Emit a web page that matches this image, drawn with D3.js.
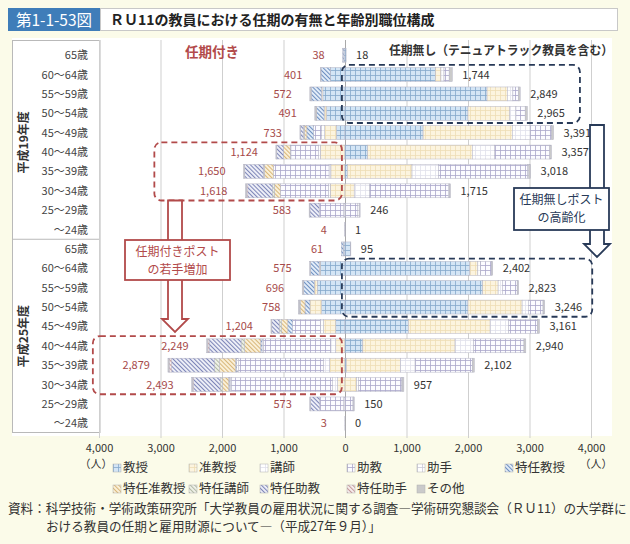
<!DOCTYPE html>
<html>
<head>
<meta charset="utf-8">
<script src="https://cdn.jsdelivr.net/npm/d3@7"></script>
<style>
  body { margin: 0; background: #fbfbe9; }
  svg { display: block; font-family: "Noto Sans CJK JP", "Noto Sans", sans-serif; }
</style>
</head>
<body>
<svg id="chart" width="630" height="544"></svg>
<script>
// ---- data ----
const ageGroups = ["65歳", "60～64歳", "55～59歳", "50～54歳", "45～49歳", "40～44歳",
                   "35～39歳", "30～34歳", "25～29歳", "～24歳"];
const years = ["平成19年度", "平成25年度"];

// every post, in the order it is stacked out from the zero line
const posts = ["教授", "准教授", "講師", "助教", "助手", "特任教授", "特任准教授",
               "特任講師", "特任助教", "特任助手", "その他"];
// posts that exist on the tenured (right) side
const tenurePosts = ["教授", "准教授", "講師", "助教", "助手", "その他"];

// 任期付き (left side), one row per age group, columns = posts
const fixedH19 = [
  [20, 0, 0, 0, 0, 18, 0, 0, 0, 0, 0],
  [240, 0, 0, 0, 0, 150, 0, 0, 0, 0, 11],
  [360, 20, 0, 0, 0, 170, 0, 0, 0, 0, 22],
  [300, 40, 0, 0, 0, 120, 10, 0, 0, 0, 21],
  [140, 190, 50, 130, 0, 110, 40, 20, 40, 0, 13],
  [0, 400, 30, 450, 0, 10, 110, 0, 110, 0, 14],
  [0, 230, 30, 900, 0, 0, 150, 20, 300, 0, 20],
  [0, 240, 30, 780, 0, 0, 100, 30, 400, 20, 18],
  [0, 0, 20, 400, 0, 0, 0, 0, 150, 0, 13],
  [0, 0, 0, 4, 0, 0, 0, 0, 0, 0, 0]
];
const fixedH25 = [
  [30, 0, 0, 0, 0, 31, 0, 0, 0, 0, 0],
  [400, 20, 0, 0, 0, 140, 0, 0, 0, 0, 15],
  [450, 50, 0, 0, 0, 170, 0, 0, 0, 0, 26],
  [380, 190, 0, 0, 0, 80, 70, 20, 0, 0, 18],
  [150, 200, 50, 450, 0, 80, 100, 40, 120, 0, 14],
  [0, 150, 80, 1100, 20, 20, 260, 60, 520, 20, 19],
  [0, 250, 100, 1380, 30, 20, 260, 80, 700, 40, 19],
  [0, 120, 80, 1650, 30, 10, 100, 40, 430, 15, 18],
  [0, 0, 20, 390, 0, 0, 0, 0, 150, 0, 13],
  [0, 0, 0, 3, 0, 0, 0, 0, 0, 0, 0]
];

// 任期無し (right side), columns = tenurePosts
const tenureH19 = [
  [18, 0, 0, 0, 0, 0],
  [1470, 90, 50, 84, 0, 50],
  [2310, 330, 90, 90, 0, 29],
  [2000, 680, 100, 150, 0, 35],
  [1270, 1450, 290, 350, 0, 31],
  [370, 1700, 360, 900, 0, 27],
  [40, 1050, 430, 1450, 20, 28],
  [0, 150, 250, 1280, 15, 20],
  [0, 0, 10, 200, 30, 6],
  [0, 0, 0, 1, 0, 0]
];
const tenureH25 = [
  [90, 0, 0, 0, 0, 5],
  [2030, 130, 40, 180, 0, 22],
  [2240, 250, 70, 240, 0, 23],
  [2000, 880, 100, 240, 0, 26],
  [1030, 1330, 300, 470, 0, 31],
  [290, 1500, 300, 820, 0, 30],
  [20, 880, 240, 930, 0, 32],
  [0, 190, 30, 700, 10, 27],
  [0, 0, 0, 130, 10, 10],
  [0, 0, 0, 0, 0, 0]
];

const xTicks = [-4000, -3000, -2000, -1000, 0, 1000, 2000, 3000, 4000];

// ---- setup ----
const svg = d3.select("#chart");
const defs = svg.append("defs");

// look of each post: grid patterns for regular posts, hatches for 特任
const postStyle = {
  "教授":     { kind: "grid",  bg: "#d4e5f5", line: "#86a8cc" },
  "准教授":   { kind: "grid",  bg: "#fcf4df", line: "#eedcb4" },
  "講師":     { kind: "grid",  bg: "#ffffff", line: "#e0e0ea" },
  "助教":     { kind: "grid",  bg: "#fcfcff", line: "#aaa7c9" },
  "助手":     { kind: "grid",  bg: "#ffffff", line: "#c9c9d8" },
  "特任教授":   { kind: "hatch", bg: "#e4eef9", line: "#6f90c1" },
  "特任准教授": { kind: "hatch", bg: "#fbf1da", line: "#d8b77a" },
  "特任講師":   { kind: "hatch", bg: "#f0f2ea", line: "#b3bba6" },
  "特任助教":   { kind: "hatch", bg: "#eff0f8", line: "#7e86b8" },
  "特任助手":   { kind: "hatch", bg: "#f7efef", line: "#c79b9b" },
  "その他":   { kind: "solid", bg: "#cacaca" }
};

posts.forEach((p, i) => {
  const s = postStyle[p];
  s.fill = s.kind === "solid" ? s.bg : `url(#pat${i})`;
  if (s.kind === "grid") {
    const pat = defs.append("pattern").attr("id", "pat" + i)
      .attr("patternUnits", "userSpaceOnUse").attr("width", 5).attr("height", 5);
    pat.append("rect").attr("width", 5).attr("height", 5).attr("fill", s.bg);
    pat.append("path").attr("d", "M0,0.4H5M0.4,0V5")
      .attr("stroke", s.line).attr("stroke-width", 0.9);
  } else if (s.kind === "hatch") {
    const pat = defs.append("pattern").attr("id", "pat" + i)
      .attr("patternUnits", "userSpaceOnUse").attr("width", 3).attr("height", 3)
      .attr("patternTransform", "rotate(-45)");
    pat.append("rect").attr("width", 3).attr("height", 3).attr("fill", s.bg);
    pat.append("line").attr("x1", 0.5).attr("y1", 0).attr("x2", 0.5).attr("y2", 3)
      .attr("stroke", s.line).attr("stroke-width", 1.1);
  }
});

// ---- scales ----
const x = d3.scaleLinear().domain([-4000, 4000]).range([99, 591]);

// one band per (year, age group) row
const rowKeys = [];
years.forEach(yr => ageGroups.forEach(a => rowKeys.push(yr + "|" + a)));
const y = d3.scaleBand().domain(rowKeys).range([45.5, 433]).paddingInner(0.28).paddingOuter(0.14);
const step = y.step();
const rowTop = k => y(k) - (step - y.bandwidth()) / 2;
const rowBottom = k => rowTop(k) + step;

// ---- frame: white plot area and the label panel ----
svg.append("rect").attr("x", 12).attr("y", 38).attr("width", 600).attr("height", 398)
  .attr("fill", "#ffffff");
svg.append("rect").attr("x", 12.5).attr("y", 40.5).attr("width", 87.5).attr("height", 392)
  .attr("fill", "#ffffff").attr("stroke", "#b9b9b9");
svg.append("line").attr("x1", 12).attr("x2", 100)
  .attr("y1", rowTop(years[1] + "|" + ageGroups[0])).attr("y2", rowTop(years[1] + "|" + ageGroups[0]))
  .attr("stroke", "#b9b9b9");

// vertical gridlines
svg.append("g").selectAll("line").data(xTicks).join("line")
  .attr("x1", d => x(d) + 0.5).attr("x2", d => x(d) + 0.5)
  .attr("y1", 40).attr("y2", 438)
  .attr("stroke", d => d === 0 ? "#a9a9a9" : "#cfcfcf").attr("stroke-width", 1);

// ---- title bar ----
svg.append("rect").attr("x", 8).attr("y", 8).attr("width", 92).attr("height", 23).attr("fill", "#3f7db9");
svg.append("text").attr("x", 54).attr("y", 25.5).attr("text-anchor", "middle")
  .attr("fill", "#ffffff").attr("font-size", 15.5).text("第1-1-53図");
svg.append("rect").attr("x", 100.5).attr("y", 8.5).attr("width", 517).attr("height", 22)
  .attr("fill", "#ffffff").attr("stroke", "#c8c8c8");
svg.append("text").attr("x", 110).attr("y", 25).attr("fill", "#222").attr("font-size", 14)
  .attr("font-weight", "bold").text("ＲＵ11の教員における任期の有無と年齢別職位構成");

// ---- row labels ----
svg.append("g").selectAll("text").data(rowKeys).join("text")
  .attr("x", 88).attr("y", d => y(d) + y.bandwidth() / 2 + 4)
  .attr("text-anchor", "end").attr("font-size", 11).attr("fill", "#444")
  .text(d => d.split("|")[1]);

years.forEach(yr => {
  const cy = (rowTop(yr + "|" + ageGroups[0]) + rowBottom(yr + "|" + ageGroups[9])) / 2;
  svg.append("text").attr("transform", `translate(28,${cy}) rotate(-90)`)
    .attr("text-anchor", "middle").attr("font-size", 12).attr("font-weight", "bold")
    .attr("fill", "#333").text(yr);
});

// ---- bars ----
function drawSide(rows, keys, yr, dir) {
  rows.forEach((vals, i) => {
    const k = yr + "|" + ageGroups[i];
    let cum = 0;
    const segs = vals.map((v, j) => {
      const s = { post: keys[j], a: cum, b: cum + v };
      cum += v;
      return s;
    }).filter(s => s.b > s.a);
    svg.append("g").selectAll("rect").data(segs).join("rect")
      .attr("x", s => dir < 0 ? x(-s.b) : x(s.a))
      .attr("width", s => x(s.b) - x(s.a))
      .attr("y", y(k)).attr("height", y.bandwidth())
      .attr("fill", s => postStyle[s.post].fill)
      .attr("stroke", "#b4b4c4").attr("stroke-width", 0.5);

    // total label
    const total = d3.sum(vals);
    const end = dir < 0 ? x(-total) : x(total);
    svg.append("text")
      .attr("x", dir < 0 ? end - 18 : end + 10)
      .attr("y", y(k) + y.bandwidth() / 2 + 4)
      .attr("text-anchor", dir < 0 ? "end" : "start")
      .attr("font-size", 11)
      .attr("fill", dir < 0 ? "#a64a4a" : "#333")
      .text(d3.format(",")(total));
  });
}
drawSide(fixedH19, posts, years[0], -1);
drawSide(fixedH25, posts, years[1], -1);
drawSide(tenureH19, tenurePosts, years[0], 1);
drawSide(tenureH25, tenurePosts, years[1], 1);

// ---- x axis ----
const axis = svg.append("g").attr("transform", "translate(0,436)")
  .call(d3.axisBottom(x).tickValues(xTicks).tickSize(0).tickPadding(8)
    .tickFormat(d => d3.format(",")(Math.abs(d))));
axis.select(".domain").remove();
axis.selectAll("text").attr("font-size", 11).attr("fill", "#333")
  .attr("font-family", "\"Noto Sans CJK JP\", sans-serif");
svg.append("text").attr("x", 96).attr("y", 468).attr("text-anchor", "middle")
  .attr("font-size", 11).attr("fill", "#333").text("（人）");
svg.append("text").attr("x", 596).attr("y", 468).attr("text-anchor", "middle")
  .attr("font-size", 11).attr("fill", "#333").text("（人）");

// ---- side headers ----
svg.append("text").attr("x", 212).attr("y", 57).attr("text-anchor", "middle")
  .attr("font-size", 13.5).attr("font-weight", "bold").attr("fill", "#b24a4a").text("任期付き");
svg.append("text").attr("x", 389).attr("y", 55)
  .attr("font-size", 12.5).attr("font-weight", "bold").attr("fill", "#333")
  .attr("textLength", 224).attr("lengthAdjust", "spacingAndGlyphs")
  .text("任期無し（テニュアトラック教員を含む）");

// ---- annotations ----
const red = "#b24a4a", navy = "#283a58";
function dashedBox(v0, v1, yr, a0, a1, color) {
  const t = rowTop(yr + "|" + ageGroups[a0]), b = rowBottom(yr + "|" + ageGroups[a1]);
  svg.append("rect").attr("x", x(v0)).attr("y", t)
    .attr("width", x(v1) - x(v0)).attr("height", b - t)
    .attr("rx", 7).attr("fill", "none").attr("stroke", color)
    .attr("stroke-width", 1.8).attr("stroke-dasharray", "6,4");
}
dashedBox(-3100, -50, years[0], 5, 7, red);
dashedBox(-4100, -50, years[1], 5, 7, red);
dashedBox(-50, 3820, years[0], 1, 3, navy);
dashedBox(-50, 4020, years[1], 1, 3, navy);

// hollow arrow with a caption box sitting on its shaft
function arrowWithBox(cx, top, tip, box, lines, color) {
  const hw = 7, hh = 13, headW = 13;
  const path = `M${cx - hw},${top}V${tip - hh}H${cx - headW}L${cx},${tip}L${cx + headW},${tip - hh}H${cx + hw}V${top}Z`;
  svg.append("path").attr("d", path).attr("fill", "#ffffff")
    .attr("stroke", color).attr("stroke-width", 1.8);
  svg.append("rect").attr("x", box[0]).attr("y", box[1]).attr("width", box[2]).attr("height", box[3])
    .attr("fill", "#ffffff").attr("stroke", color).attr("stroke-width", 1.8);
  lines.forEach((t, i) => {
    svg.append("text").attr("x", box[0] + box[2] / 2).attr("y", box[1] + 16 + i * 18)
      .attr("text-anchor", "middle").attr("font-size", 12).attr("fill", color).text(t);
  });
}
arrowWithBox(175, rowBottom(years[0] + "|" + ageGroups[7]), 332, [125, 240, 105, 40],
  ["任期付きポスト", "の若手増加"], red);
arrowWithBox(597, rowBottom(years[0] + "|" + ageGroups[3]) + 2, 257, [514, 188, 95, 42],
  ["任期無しポスト", "の高齢化"], navy);

// ---- legend ----
const legendCols = [113, 189, 260, 347, 417, 505];
const legendItems = posts.map((p, i) => ({
  post: p,
  lx: legendCols[i < 6 ? i : i - 6],
  ly: i < 6 ? 472 : 493
}));
const lg = svg.append("g").selectAll("g").data(legendItems).join("g")
  .attr("transform", d => `translate(${d.lx},${d.ly})`);
lg.append("rect").attr("x", 0).attr("y", -8).attr("width", 8).attr("height", 8)
  .attr("fill", d => postStyle[d.post].fill).attr("stroke", "#b0b0b0").attr("stroke-width", 0.5);
lg.append("text").attr("x", 10).attr("y", 0).attr("font-size", 12.5).attr("fill", "#333")
  .text(d => d.post);

// ---- source ----
svg.append("text").attr("x", 8).attr("y", 513).attr("font-size", 12.6).attr("fill", "#333")
  .text("資料：科学技術・学術政策研究所「大学教員の雇用状況に関する調査―学術研究懇談会（ＲＵ11）の大学群に");
svg.append("text").attr("x", 46).attr("y", 531).attr("font-size", 12.6).attr("fill", "#333")
  .text("おける教員の任期と雇用財源について―（平成27年９月）」");
</script>
</body>
</html>
